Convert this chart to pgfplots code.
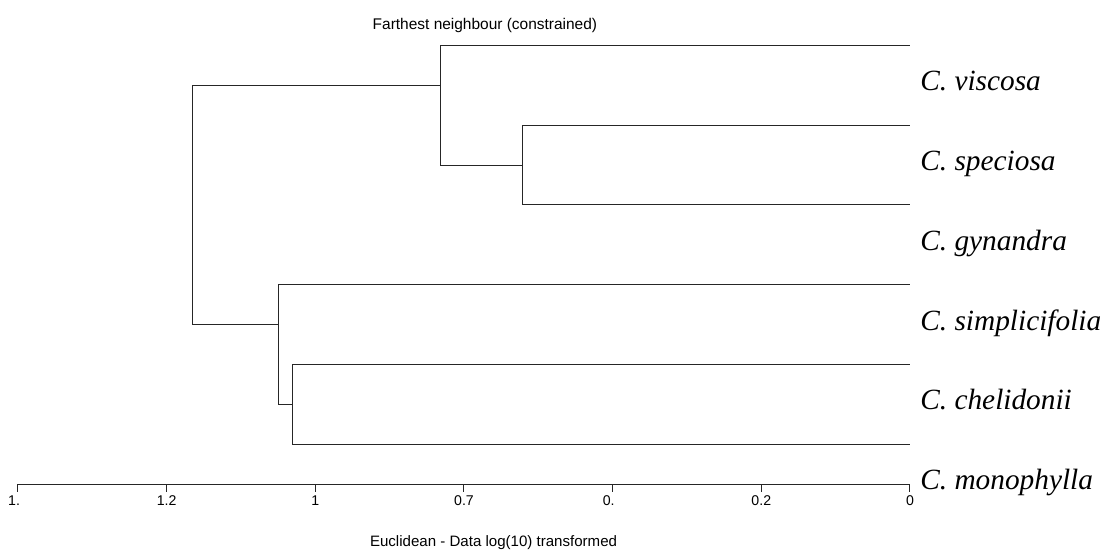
\documentclass[border=0pt]{standalone}
\usepackage{fontspec}
\setmainfont{Liberation Sans}
\newfontfamily\taxonfont{Liberation Serif}
\usepackage{pgfplots}
\pgfplotsset{compat=1.18}

% dendrogram edge style
\tikzset{edge/.style={black!85, line width=0.75pt, no marks},
         taxon/.style={anchor=base west, inner sep=0pt,
                       font=\fontsize{22}{26}\selectfont\taxonfont\itshape},
         tick/.style={anchor=base, font=\fontsize{10.6}{12}\selectfont}}

\begin{document}
\begin{tikzpicture}
\begin{axis}[
  scale only axis,
  width=669pt, height=328.8pt,
  xmin=0, xmax=6, ymin=1, ymax=6.5,
  x dir=reverse, y dir=reverse,
  hide axis, clip=false,
]
% page extent
\path (axis cs:6.121,0.429) rectangle (axis cs:-1.332,7.305);

% clusters (distance on x, leaf order on y)
\addplot[edge] coordinates {(0,2) (2.605,2) (2.605,3) (0,3)};
\addplot[edge] coordinates {(0,1) (3.156,1) (3.156,2.5) (2.605,2.5)};
\addplot[edge] coordinates {(0,5) (4.155,5) (4.155,6) (0,6)};
\addplot[edge] coordinates {(0,4) (4.247,4) (4.247,5.5) (4.155,5.5)};
\addplot[edge] coordinates {(3.156,1.5) (4.827,1.5) (4.827,4.5) (4.247,4.5)};

% distance scale
\addplot[edge] coordinates {(0,6.506) (6,6.506)};
\pgfplotsinvokeforeach{0,...,6}{
  \addplot[edge] coordinates {(#1,6.506) (#1,6.6)};
}
\node[tick] at (axis cs:0,6.765) {0};
\node[tick] at (axis cs:1,6.765) {0.2};
\node[tick] at (axis cs:2,6.765) {0.\phantom{4}};
\node[tick] at (axis cs:3,6.765) {0.7};
\node[tick] at (axis cs:4,6.765) {1};
\node[tick] at (axis cs:5,6.765) {1.2};
\node[tick] at (axis cs:6,6.765) {1.\phantom{4}};

% titles
\node[anchor=base, font=\fontsize{11.6}{13}\selectfont] at (axis cs:2.859,0.793) {Farthest neighbour (constrained)};
\node[anchor=base, font=\fontsize{11.3}{13}\selectfont] at (axis cs:2.801,7.28) {Euclidean - Data log(10) transformed};

% leaf names
\node[taxon] at (axis cs:-0.068,1.57) {C. viscosa};
\node[taxon] at (axis cs:-0.068,2.57) {C. speciosa};
\node[taxon] at (axis cs:-0.068,3.57) {C. gynandra};
\node[taxon] at (axis cs:-0.068,4.57) {C. simplicifolia};
\node[taxon] at (axis cs:-0.068,5.57) {C. chelidonii};
\node[taxon] at (axis cs:-0.068,6.57) {C. monophylla};
\end{axis}
\end{tikzpicture}
\end{document}
